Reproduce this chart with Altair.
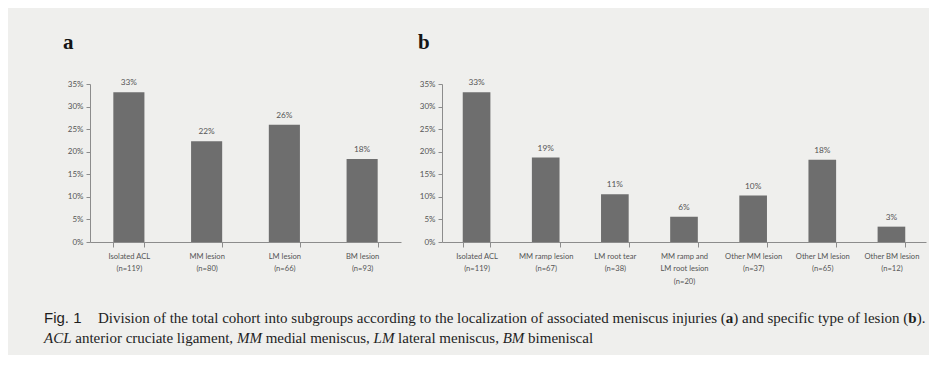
import altair as alt
import pandas as pd

# ---------------- data ----------------
cats_a = ["Isolated ACL", "MM lesion", "LM lesion", "BM lesion"]
n_a = [119, 80, 66, 93]
pct_a = [33.2, 22.3, 26.0, 18.4]

cats_b = ["Isolated ACL", "MM ramp lesion", "LM root tear", "MM ramp and|LM root lesion",
          "Other MM lesion", "Other LM lesion", "Other BM lesion"]
n_b = [119, 67, 38, 20, 37, 65, 12]
pct_b = [33.2, 18.7, 10.6, 5.6, 10.3, 18.2, 3.4]

y_ticks = [0, 0.05, 0.10, 0.15, 0.20, 0.25, 0.30, 0.35]

caption_line1 = [
    ("Fig. 1", "sans"),
    ("Division of the total cohort into subgroups according to the localization of associated meniscus injuries (", "reg"),
    ("a", "bold"),
    (") and specific type of lesion (", "reg"),
    ("b", "bold"),
    (").", "reg"),
]
caption_line2 = [
    ("ACL", "ital"), ("anterior cruciate ligament,", "reg"),
    ("MM", "ital"), ("medial meniscus,", "reg"),
    ("LM", "ital"), ("lateral meniscus,", "reg"),
    ("BM", "ital"), ("bimeniscal", "reg"),
]

# ---------------- style ----------------
BG = "#efefed"
BAR = "#6e6e6e"
AX = "#8c8c8c"
TXT = "#555555"
LFONT = "Lato"
SERIF = "Liberation Serif"
CAP_SIZE = 15
CAP_SHIFT = -46  # caption starts left of the first plot's origin

# Times metrics (1/1000 em) for laying out caption pieces
TIMES_REG = {" ": 250, "(": 333, ")": 333, ".": 250, ",": 250, "1": 500,
             "a": 444, "b": 500, "c": 444, "d": 500, "e": 444, "f": 333, "g": 500,
             "h": 500, "i": 278, "j": 278, "k": 500, "l": 278, "m": 778, "n": 500,
             "o": 500, "p": 500, "q": 500, "r": 333, "s": 389, "t": 278, "u": 500,
             "v": 500, "w": 722, "x": 500, "y": 500, "z": 444, "D": 722, "F": 556}
TIMES_BOLD = {"a": 500, "b": 556}
TIMES_ITAL = {"A": 611, "B": 611, "C": 667, "L": 556, "M": 833}
ARIAL = {"F": 611, "i": 222, "g": 556, ".": 278, " ": 278, "1": 556}


def text_w(s, kind):
    table = {"reg": TIMES_REG, "bold": TIMES_BOLD, "ital": TIMES_ITAL, "sans": ARIAL}[kind]
    return sum(table.get(ch, TIMES_REG.get(ch, 500)) for ch in s) / 1000 * CAP_SIZE


def panel(cats, ns, pcts, width, title, min_extent, title_dx):
    labels = [f"{c}|(n={n})" for c, n in zip(cats, ns)]
    df = pd.DataFrame({"label": labels, "share": [p / 100 for p in pcts]})
    x = alt.X("label:N", sort=labels, title=None,
              scale=alt.Scale(paddingInner=0.6, paddingOuter=0.3),
              axis=alt.Axis(labelAngle=0, labelExpr="split(datum.label, '|')",
                            tickBand="extent", tickSize=5, tickColor=AX, domainColor=AX,
                            labelFont=LFONT, labelFontSize=7.6, labelColor=TXT,
                            labelPadding=5, labelLineHeight=12.5, labelBaseline="top",
                            labelOverlap=False, grid=False))
    y = alt.Y("share:Q", title=None, scale=alt.Scale(domain=[0, 0.35], nice=False),
              axis=alt.Axis(values=y_ticks, format=".0%", tickSize=4, tickColor=AX,
                            domainColor=AX, labelFont=LFONT, labelFontSize=8,
                            labelColor=TXT, labelPadding=3, minExtent=min_extent,
                            grid=False))
    base = alt.Chart(df).encode(x=x, y=y)
    bars = base.mark_bar(color=BAR)
    labels_mark = base.mark_text(baseline="bottom", dy=-5, font=LFONT, fontSize=8.3,
                                 color=TXT).encode(text=alt.Text("share:Q", format=".0%"))
    return (bars + labels_mark).properties(
        width=width, height=158,
        title=alt.Title(title, anchor="start", font=SERIF, fontSize=21, fontWeight="bold",
                        color="#151515", dx=title_dx, offset=25))


chart_a = panel(cats_a, n_a, pct_a, 311, "a", 46, 19)
chart_b = panel(cats_b, n_b, pct_b, 484, "b", 26, 2)

# ---------------- caption ----------------
rows = []
x = float(CAP_SHIFT)
for i, (s, kind) in enumerate(caption_line1):
    if i == 1:
        x = CAP_SHIFT + 54.0
    rows.append({"t": s, "x": x, "y": 20, "kind": kind})
    x += text_w(s, kind)
x = float(CAP_SHIFT)
for s, kind in caption_line2:
    rows.append({"t": s, "x": x, "y": 40, "kind": kind})
    x += text_w(s, kind) + text_w(" ", "reg")
cap_df = pd.DataFrame(rows)

cap_base = alt.Chart(cap_df).encode(
    x=alt.X("x:Q", scale=None, axis=None),
    y=alt.Y("y:Q", scale=None, axis=None),
    text="t:N",
)
cap_layers = []
for kind, font, style, weight in [("sans", "Liberation Sans", "normal", "normal"),
                                  ("reg", SERIF, "normal", "normal"),
                                  ("bold", SERIF, "normal", "bold"),
                                  ("ital", SERIF, "italic", "normal")]:
    cap_layers.append(
        cap_base.transform_filter(alt.datum.kind == kind).mark_text(
            align="left", baseline="alphabetic", font=font, fontStyle=style,
            fontWeight=weight, fontSize=CAP_SIZE, color="#1e1e1e"))
caption = alt.layer(*cap_layers).properties(width=800, height=44)

chart = alt.vconcat(
    alt.hconcat(chart_a, chart_b, spacing=15),
    caption,
    spacing=18,
).properties(
    background=BG,
    padding={"left": 36, "top": 24, "right": 3, "bottom": 8},
).configure_view(stroke=None)

chart.save("out.html", embed_options={"renderer": "svg", "actions": False})
